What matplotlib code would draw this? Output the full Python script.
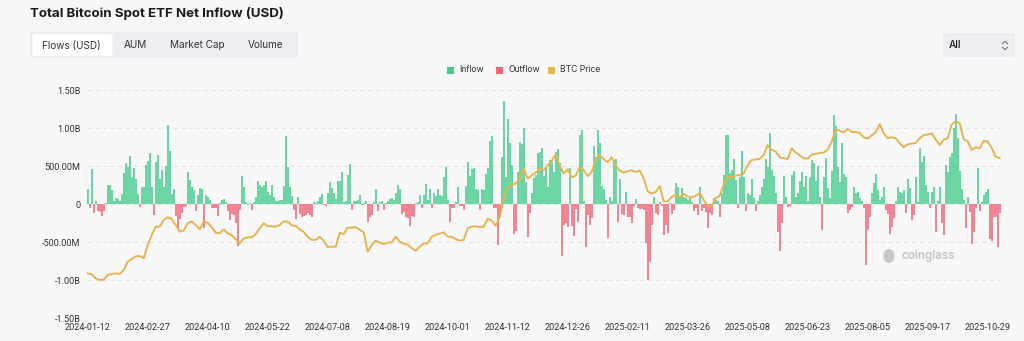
import numpy as np
import pandas as pd
import matplotlib
matplotlib.use("Agg")
import matplotlib.pyplot as plt
from matplotlib.patches import FancyBboxPatch, Rectangle, Ellipse
from matplotlib.lines import Line2D

# ---------------- data ----------------
first_day = "2024-01-12"
last_day = "2025-11-06"
market_holidays = ["2024-01-15", "2024-02-19", "2024-03-29", "2024-05-27", "2024-06-19",
                   "2024-07-04", "2024-09-02", "2024-11-28", "2024-12-25", "2025-01-01",
                   "2025-01-09", "2025-01-20", "2025-02-17", "2025-04-18", "2025-05-26",
                   "2025-06-19", "2025-07-04", "2025-09-01"]

# daily net flow, million USD
net_flow_musd = [
    202, -48, 458, -123, 40, -92, -110, -158, -88, 13,
    250, 246, 185, 44, 75, 70, 44, 136, 405, 537,
    493, 634, 361, 471, 326, 128, -35, 229, 229, 515,
    568, 669, 220, -141, 559, 642, 334, 449, 220, 502,
    1043, 695, 128, 198, -158, -334, -202, -114, -35, -20,
    418, 317, 220, 185, -88, 119, 207, 194, -312, 114,
    97, 53, -57, -53, -48, -158, 10, 53, 62, 31,
    -88, -211, -132, -145, -255, -554, -79, 374, 220, 26,
    -18, 13, -79, 30, 97, 304, 250, 229, 246, 308,
    163, 119, 246, 97, 40, 35, 53, 53, 242, 889,
    493, 220, 106, -79, -198, 97, -132, -167, -154, -145,
    -123, -140, -170,
    22, 18, 40, 88, 128, -18, -20, 141,
    295, 216, 150, 70, 304, 299, 422, 31, 40, 383,
    528, -79, 40, 35, 53, 114, -15, 10, 44, -233,
    -167, -150, 30, 198, -92, 26, 35, -79, 18, 44,
    62, 84, 53, 141, 246, 198, -132, -101, -167, -180,
    -286, -158, -167, 10, 30, 119, -48, 119, 260, 53,
    194, -53, 150, 101, 198, 119, 110, 361, 493, 53,
    -233, -57, -48, 20, 229, -26, -22, -79, 238, 559,
    374, 458, 471, 198, 185, -79, 198, 185, 396, 471,
    823, 889, -54, -48, -541, -167, 616, 1360, 361, 1118,
    801, 510, -396, -356, 427, 814, 788, 999, 286, -431,
    -123,
    150, 338, 382, 667, 689, 742, 369, 470, 230, 580,
    558, 426, 689, 720, 536,
    -680, -277, -255, -300,
    471, -290, -418, -60, -233, 902, 977, 44, -568, -150,
    -277, -180, 757, 620, 977, 801, 238, 194, 50, -453,
    97, 40, 581, 594, -233, 326, -132, -145, 163, -176,
    -170, -246, -30, 62, -57, -60, -70, -79, -510, -1004,
    -761, -275, 97, -123, -145, 20, -30, -409, -277, -387,
    15, -132, -79, 273, 220, 97, 207, 97, 75, 53,
    97, 20, -92, -57, -145, 220, -88, -48, -101, -321,
    -123, -145, 75, 50, 40, -167, 141, 383, 911, 911,
    405, 449, 590, 317, -57, 361, 691, 352, -88, 141,
    119, 326, 84, -92, 40, 119, 229, 334, 598, 484,
    933, 449, 370, 150, -365, -616, -255,
    370, 97, -35, -20, 383, 436, 97, 150, 308, 427,
    229, 370, 40, 352, 581, 537, 308, 502, 97, -343,
    361, 603, 207, 75, 440, 1175, 1021, 484, 295, 801,
    396, 361, -123, -79, -44, 220, 141, 163, 75, 40,
    -57, -805, -343, -167, 141, 273, 396, 185, 53, 88,
    229, -79, -132, -396, -299, -189, 40, 220, 163, 141,
    185, -123, 326, 207, -211, -145, 361, 20, 735, 559,
    634, 250, 163, -48, 163, 220, -365, 40, 220, -246,
    -409, 515, 427, 616, 669, 999, 1182, 867, 440, 194,
    50, -321, 97, -101, -528, -365, -57, 471, -92, 20,
    119, 163, 198, -467, -484, -176, -176, -564, -123,
]

# BTC price (thousand USD), read every second trading day
btc_price_k = [
    43.0, 42.5, 40.4, 39.5, 39.7, 42.1, 42.7, 43.0, 42.7, 44.8,
    49.2, 50.6, 52.0, 52.2, 51.0, 58.0, 63.3, 67.7, 67.7, 71.2,
    72.7, 71.8, 68.6, 65.1, 65.6, 69.5, 70.5, 68.6, 66.3, 70.4,
    69.8, 67.4, 64.5, 64.2, 66.3, 64.2, 63.3, 61.0, 58.9, 61.4,
    62.1, 62.1, 63.8, 66.8, 69.5, 67.9, 67.9, 67.7, 68.6, 70.5,
    70.4, 68.4, 68.1, 66.3, 64.9, 62.4, 60.7, 60.7, 62.4, 60.3,
    56.8, 57.1, 57.1, 64.5, 63.8, 67.2, 67.2, 67.5, 66.0, 64.7,
    54.5, 58.0, 60.3, 59.3, 58.5, 59.3, 59.4, 62.4, 59.8, 58.7,
    58.2, 56.3, 55.0, 57.1, 58.9, 58.9, 62.4, 63.5, 64.0, 64.7,
    62.4, 62.3, 61.2, 60.3, 60.7, 66.8, 67.7, 67.9, 67.5, 67.7,
    72.0, 70.9, 68.1, 73.0, 81.8, 88.7, 89.6, 90.6, 92.6, 98.6,
    93.1, 94.9, 96.3, 98.4, 97.7, 100.2, 102.6, 105.8, 99.8, 95.9,
    98.1, 93.8, 94.7, 99.1, 97.7, 94.4, 96.8, 103.0, 105.6, 103.5,
    101.8, 104.4, 99.8, 97.4, 96.3, 97.0, 97.5, 96.6, 97.4, 93.3,
    86.4, 85.2, 86.1, 89.2, 81.0, 81.1, 83.4, 84.5, 83.2, 85.0,
    83.6, 83.1, 84.1, 85.4, 81.8, 78.7, 78.7, 82.7, 84.1, 89.8,
    94.2, 93.8, 94.7, 95.1, 95.8, 100.3, 103.0, 103.3, 103.5, 105.6,
    110.9, 108.3, 107.4, 104.4, 103.9, 103.5, 109.2, 106.9, 105.5, 103.9,
    103.7, 105.8, 106.2, 106.7, 106.9, 108.5, 112.7, 119.2, 118.5, 117.5,
    119.4, 117.8, 117.8, 117.3, 115.0, 114.3, 116.0, 117.6, 121.9, 117.1,
    114.5, 115.0, 114.5, 111.8, 109.7, 111.3, 111.6, 112.0, 114.5, 116.2,
    116.4, 117.1, 113.9, 110.9, 113.8, 114.5, 121.7, 123.5, 122.4, 113.9,
    112.9, 108.3, 109.7, 109.2, 113.1, 112.7, 109.3, 104.8, 103.9,
]

y_tick_values = [-1.5e9, -1.0e9, -5e8, 0, 5e8, 1.0e9, 1.5e9]
y_tick_labels = ["-1.50B", "-1.00B", "-500.00M", "0", "500.00M", "1.00B", "1.50B"]
tabs = ["Flows (USD)", "AUM", "Market Cap", "Volume"]
legend_items = ["Inflow", "Outflow", "BTC Price"]

# ---------------- build ----------------
days = pd.bdate_range(first_day, last_day, freq="C", holidays=market_holidays)
day_labels = [d.strftime("%Y-%m-%d") for d in days]
assert len(day_labels) == len(net_flow_musd), (len(day_labels), len(net_flow_musd))
price_days = np.arange(len(day_labels))[::2]
assert len(price_days) == len(btc_price_k), (len(price_days), len(btc_price_k))

flows = np.array(net_flow_musd, dtype=float) * 1e6
price = np.array(btc_price_k) * 1000
pos = np.arange(len(flows))

W, H = 1024, 341
BG = "#f8f8f8"
GREEN = "#43cc8c"
RED = "#f26476"
GOLD = "#e8b24c"
TXT = "#333333"

plt.rcParams["font.family"] = ["Inter", "DejaVu Sans"]
fig = plt.figure(figsize=(W / 100, H / 100), dpi=100, facecolor=BG)

def fx(x):
    return x / W

def fy(y):
    return 1 - y / H

ax = fig.add_axes([fx(86.7), fy(318), (1000.7 - 86.7) / W, (318 - 90) / H])
ax.set_facecolor(BG)
pos_mask = flows >= 0
ax.vlines(pos[pos_mask], 0, flows[pos_mask], colors=GREEN, linewidth=1.12,
          zorder=2, capstyle="butt")
ax.vlines(pos[~pos_mask], 0, flows[~pos_mask], colors=RED, linewidth=1.12,
          zorder=2, capstyle="butt")
ax.set_xlim(-0.5, len(flows) - 0.5)
ax.set_ylim(-1.5e9, 1.5e9)
ax.set_yticks(y_tick_values)
ax.set_yticklabels(y_tick_labels)
ax.yaxis.grid(True, color="#e4e4e4", linestyle=(0, (4, 3)), linewidth=0.8, zorder=0)
xt = np.arange(0, len(flows), 30)
ax.set_xticks(xt)
ax.set_xticklabels([day_labels[i] for i in xt])
ax.tick_params(axis="both", length=0, labelsize=6.6, colors=TXT)
ax.tick_params(axis="y", pad=4.5)
ax.tick_params(axis="x", pad=3.5)
for s in ax.spines.values():
    s.set_visible(False)
for lab in ax.get_xticklabels() + ax.get_yticklabels():
    lab.set_family(["Roboto", "DejaVu Sans"])

ax2 = ax.twinx()
ax2.plot(price_days, price, color=GOLD, linewidth=1.35, zorder=3,
         solid_joinstyle="round")
ax2.set_ylim(19400, 140000)
ax2.set_yticks([])
for s in ax2.spines.values():
    s.set_visible(False)

# title
fig.text(fx(30), fy(14), "Total Bitcoin Spot ETF Net Inflow (USD)", fontsize=9.6,
         fontweight="bold", color="#1a1a1a", va="center", ha="left")

# tab group
fig.add_artist(FancyBboxPatch((fx(30), fy(58)), fx(268), (58 - 32) / H,
                              boxstyle="round,pad=0,rounding_size=0.006",
                              transform=fig.transFigure, fc="#eceef1", ec="none"))
fig.add_artist(FancyBboxPatch((fx(32.5), fy(56)), fx(80), (56 - 34) / H,
                              boxstyle="round,pad=0,rounding_size=0.005",
                              transform=fig.transFigure, fc="white", ec="none"))
for label, cx in zip(tabs, [71, 135, 197, 266]):
    fig.text(fx(cx), fy(45.5), label, fontsize=7.2, color=TXT, ha="center", va="center")

# "All" selector
fig.add_artist(FancyBboxPatch((fx(943), fy(57)), fx(72), (57 - 33) / H,
                              boxstyle="round,pad=0,rounding_size=0.006",
                              transform=fig.transFigure, fc="#eceef1", ec="none"))
fig.text(fx(949), fy(45.5), "All", fontsize=7.4, color="#222222", ha="left",
         va="center", fontweight="medium")
for sgn, yc in [(1, 42.5), (-1, 48.5)]:
    fig.add_artist(Line2D([fx(1002.5), fx(1005), fx(1007.5)],
                          [fy(yc + sgn * 1.2), fy(yc - sgn * 1.2), fy(yc + sgn * 1.2)],
                          transform=fig.transFigure, color="#666666", lw=0.7))

# legend
for (label, col, sx) in zip(legend_items, [GREEN, RED, GOLD], [447, 496, 548]):
    fig.add_artist(Rectangle((fx(sx), fy(73.5)), fx(7), 7 / H, transform=fig.transFigure,
                             fc=col, ec="none"))
    fig.text(fx(sx + 12.5), fy(70), label, fontsize=6.2, color=TXT, ha="left", va="center")

# watermark
fig.add_artist(Ellipse((fx(889), fy(256)), fx(11), 14 / H, transform=fig.transFigure,
                       fc="#c9c9c9", ec="none"))
fig.text(fx(902), fy(255.5), "coinglass", fontsize=8.4, color="#c4c4c4",
         ha="left", va="center", fontweight="semibold")

fig.savefig("out.png", dpi=100, facecolor=BG)
